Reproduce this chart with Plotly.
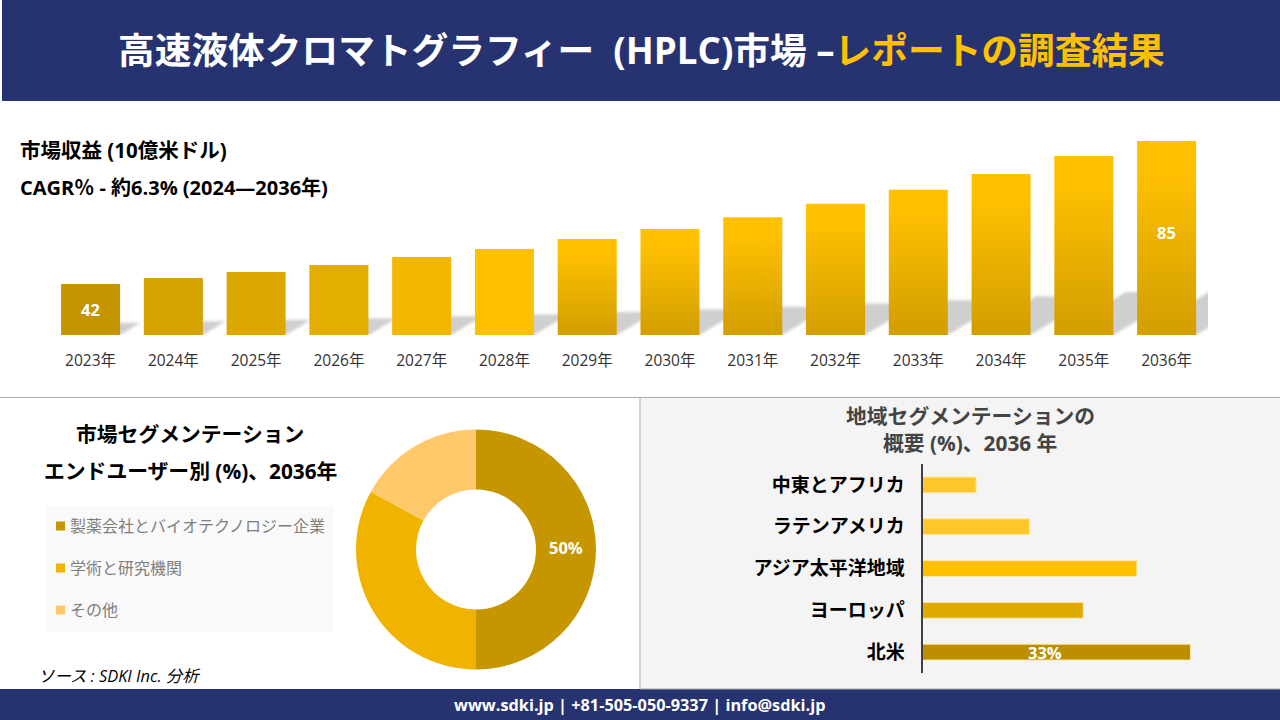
import json
import plotly.graph_objects as go

FONT = "Open Sans, Noto Sans CJK JP, sans-serif"
NAVY = "#273370"
GOLD = "#FFC000"

years = ["2023年", "2024年", "2025年", "2026年", "2027年", "2028年", "2029年",
         "2030年", "2031年", "2032年", "2033年", "2034年", "2035年", "2036年"]
revenue = [42, 43.8, 45.6, 47.7, 50.1, 52.5, 55.5, 58.5, 62.1, 66.1, 70.3, 75.1, 80.5, 85]
bar_top = ["#C49500", "#D4A300", "#DCA800", "#E4AE00", "#F2B700", "#FFC000", "#FFC000",
           "#FFC000", "#FFC000", "#FFC000", "#FFC000", "#FFC000", "#FFC000", "#FFC000"]
bar_bottom = ["#C49500", "#D4A300", "#DCA800", "#E4AE00", "#F2B700", "#FFC000", "#D4A000",
              "#D4A000", "#D4A000", "#D4A000", "#D4A000", "#D4A000", "#D4A000", "#D4A000"]

segments = ["製薬会社とバイオテクノロジー企業", "学術と研究機関", "その他"]
segment_share = [50, 33, 17]
segment_colors = ["#C69600", "#F0B400", "#FFC86B"]

regions = ["北米", "ヨーロッパ", "アジア太平洋地域", "ラテンアメリカ", "中東とアフリカ"]
region_share = [33, 19.8, 26.4, 13.2, 6.6]
region_colors = ["#BC8E00", "#E0AB00", "#FFC000", "#FFC72C", "#FFC72C"]

Y_MIN = 26.67
Y_MAX = 88.3
HALF_BAR = 0.3565


def px_x(p):
    return p / 1280


def px_y(p):
    return 1 - p / 720


def label(x, y, text, size, color="#000000", anchor="center", bold=False):
    return dict(xref="paper", yref="paper", x=px_x(x), y=px_y(y), text=text, showarrow=False,
                xanchor=anchor, yanchor="middle",
                font=dict(family=FONT, size=size, color=color, weight=700 if bold else 400))


def value_label(xref, yref, x, y, text):
    return dict(xref=xref, yref=yref, x=x, y=y, text=text, showarrow=False,
                font=dict(family=FONT, size=16.5, color="white", weight=700))


def rect(x0, y0, x1, y1, fill, line=None):
    return dict(type="rect", xref="paper", yref="paper", layer="below",
                x0=px_x(x0), x1=px_x(x1), y0=px_y(y0), y1=px_y(y1),
                fillcolor=fill, line=dict(width=1 if line else 0, color=line or fill))


# sheared shadow behind the revenue bars
shadow_x, shadow_y = [], []
for i, v in enumerate(revenue):
    lift = (v - Y_MIN) * 0.24
    shift = lift * 0.067
    shadow_x += [i - HALF_BAR, i + HALF_BAR, i + HALF_BAR + shift, i - HALF_BAR + shift, i - HALF_BAR, None]
    shadow_y += [Y_MIN, Y_MIN, Y_MIN + lift, Y_MIN + lift, Y_MIN, None]

fig = go.Figure()
fig.add_trace(go.Scatter(x=shadow_x, y=shadow_y, mode="lines", fill="toself", fillcolor="#CFCFCF",
                         line=dict(width=0), hoverinfo="skip", showlegend=False,
                         xaxis="x", yaxis="y"))
fig.add_trace(go.Bar(x=list(range(len(years))), y=[v - Y_MIN for v in revenue], base=Y_MIN,
                     marker=dict(color=bar_bottom, line=dict(width=0)),
                     showlegend=False, xaxis="x", yaxis="y"))
fig.add_trace(go.Pie(labels=segments, values=segment_share, textinfo="none",
                     hole=0.5, sort=False, direction="clockwise", rotation=0,
                     marker=dict(colors=segment_colors, line=dict(width=0)), showlegend=False,
                     domain=dict(x=[px_x(356), px_x(596)], y=[px_y(669.5), px_y(429.5)])))
fig.add_trace(go.Bar(y=regions, x=region_share, orientation="h", width=0.38,
                     marker=dict(color=region_colors, line=dict(width=1, color="#FFE9A8")),
                     showlegend=False, xaxis="x2", yaxis="y2"))

shapes = [
    rect(2, 0, 1280, 101, NAVY),
    rect(0, 689, 1280, 720, NAVY),
    rect(640, 397.5, 1281, 689, "#F4F4F4", "#ABABAB"),
    dict(type="line", xref="paper", yref="paper", layer="below", x0=0, x1=px_x(640),
         y0=px_y(397.5), y1=px_y(397.5), line=dict(color="#ABABAB", width=1)),
    rect(46, 506, 333, 632, "#F9F9F9"),
]
annotations = [
    label(641, 50, "高速液体クロマトグラフィー\u00a0\u00a0(HPLC)市場 –<span style=\"color:%s\">レポートの調査結果</span>" % GOLD,
          36.7, "white", bold=True),
    label(18, 150, "市場収益 (10億米ドル)", 20.5, anchor="left", bold=True),
    label(18, 188, "CAGR％ - 約6.3% (2024—2036年)", 20, anchor="left", bold=True),
    label(190, 434, "市場セグメンテーション", 20.8, bold=True),
    label(190, 471, "エンドユーザー別\u00a0(%)、2036年", 20.8, bold=True),
    label(970, 416, "地域セグメンテーションの", 20.8, "#444444", bold=True),
    label(970, 443, "概要 (%)、2036\u00a0年", 20.8, "#444444", bold=True),
    label(36, 675, "<i>ソース : SDKI Inc. 分析</i>", 16.4, anchor="left"),
    label(639, 705, "www.sdki.jp | +81-505-050-9337 | info@sdki.jp", 16.3, "white", bold=True),
    value_label("x", "y", 0, (revenue[0] + Y_MIN) / 2, str(revenue[0])),
    value_label("x", "y", 13, (revenue[13] + Y_MIN) / 2 + 1.8, str(revenue[13])),
    value_label("x2", "y2", 15.1, regions[0], "%d%%" % region_share[0]),
    label(566, 547, "%d%%" % segment_share[0], 16.5, "white", bold=True),
]
for y, name, color in zip([526, 568, 610], segments, segment_colors):
    shapes.append(rect(56, y - 4.5, 65, y + 4.5, color))
    annotations.append(label(68, y, name, 16, "#7F7F7F", anchor="left"))

fig.update_layout(
    width=1280, height=720, margin=dict(l=0, r=0, t=0, b=0),
    paper_bgcolor="white", plot_bgcolor="rgba(0,0,0,0)",
    barmode="overlay", bargap=0.287, showlegend=False,
    shapes=shapes, annotations=annotations,
    xaxis=dict(domain=[px_x(49.2), px_x(1208)], range=[-0.5, 13.5], tickmode="array",
               tickvals=list(range(len(years))), ticktext=years, showgrid=False, zeroline=False,
               showline=False, ticks="", ticklabelstandoff=14,
               tickfont=dict(family=FONT, size=15.5, color="#333333")),
    yaxis=dict(domain=[px_y(335), px_y(130)], range=[Y_MIN, Y_MAX], visible=False),
    xaxis2=dict(domain=[px_x(922.5), px_x(1231.5)], range=[0, 38.05], visible=False, anchor="y2"),
    yaxis2=dict(domain=[px_y(673), px_y(464)], anchor="x2", showgrid=False, zeroline=False,
                showline=True, linecolor="#404040", linewidth=2, ticks="", ticklabelstandoff=12,
                tickfont=dict(family=FONT, size=19, color="#000000", weight=700)),
)

# plotly bars cannot hold a gradient, so fill them from the colour lists once the page is drawn
post_script = """
document.body.style.margin = '0';
var gd = document.getElementById('{plot_id}');
var tops = %s, bottoms = %s;
var NS = 'http://www.w3.org/2000/svg';
var defs = gd.querySelector('svg.main-svg defs');
var paths = gd.querySelectorAll('.subplot.xy .bars .point path');
paths.forEach(function (p, i) {
  var g = document.createElementNS(NS, 'linearGradient');
  g.setAttribute('id', 'bargrad' + i);
  g.setAttribute('x1', '0'); g.setAttribute('x2', '0');
  g.setAttribute('y1', '0'); g.setAttribute('y2', '1');
  [[0.15, tops[i]], [0.95, bottoms[i]]].forEach(function (s) {
    var stop = document.createElementNS(NS, 'stop');
    stop.setAttribute('offset', s[0]);
    stop.setAttribute('stop-color', s[1]);
    g.appendChild(stop);
  });
  defs.appendChild(g);
  p.style.fill = 'url(#bargrad' + i + ')';
});
var f = document.createElementNS(NS, 'filter');
f.setAttribute('id', 'soft');
var blur = document.createElementNS(NS, 'feGaussianBlur');
blur.setAttribute('stdDeviation', '1.5');
f.appendChild(blur);
defs.appendChild(f);
gd.querySelectorAll('.subplot.xy .scatterlayer .js-fill').forEach(function (p) {
  p.style.filter = 'url(#soft)';
});
// shadow goes under the bars
var plot = gd.querySelector('.subplot.xy .plot') || gd.querySelector('.xy .plot');
var bars = gd.querySelector('.subplot.xy .barlayer');
var scat = gd.querySelector('.subplot.xy .scatterlayer');
bars.parentNode.insertBefore(scat, bars);
""" % (json.dumps(bar_top), json.dumps(bar_bottom))

fig.write_html("out.html", post_script=post_script, config=dict(displayModeBar=False))
